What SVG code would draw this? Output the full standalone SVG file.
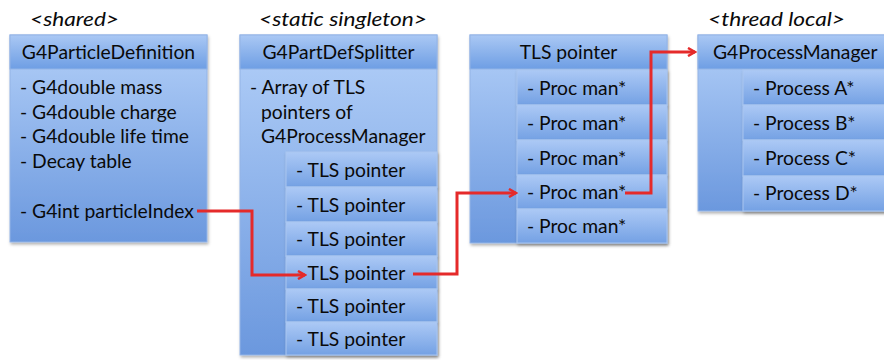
<svg xmlns="http://www.w3.org/2000/svg" width="884" height="360" viewBox="0 0 884 360">
<defs>
<linearGradient id="gHead" x1="0" y1="0" x2="0" y2="1"><stop offset="0" stop-color="#aac8f4"/><stop offset="1" stop-color="#6e9ee4"/></linearGradient>
<linearGradient id="gBody" x1="0" y1="0" x2="0" y2="1"><stop offset="0" stop-color="#b2cff8"/><stop offset="1" stop-color="#6b98de"/></linearGradient>
<linearGradient id="gRow" x1="0" y1="0" x2="0" y2="1"><stop offset="0" stop-color="#acc9f5"/><stop offset="1" stop-color="#74a1e4"/></linearGradient>
<filter id="sh" x="-10%" y="-10%" width="130%" height="130%"><feDropShadow dx="1" dy="2" stdDeviation="1.5" flood-color="#000" flood-opacity="0.3"/></filter>
<marker id="arr" markerWidth="10" markerHeight="10" refX="8" refY="5" orient="auto" markerUnits="userSpaceOnUse"><path d="M1,1 L8,5 L1,9" fill="none" stroke="#e52a2a" stroke-width="2.5"/></marker>
</defs>
<style>
text{font-family:"Lato","Open Sans","Liberation Sans",sans-serif;font-size:19.3px;fill:#0a0a0a}
.lab{font-style:italic;font-size:20px}
.mid{text-anchor:middle}
.body{fill:url(#gBody);stroke:#93b4e6;stroke-width:1;filter:url(#sh)}
.head{fill:url(#gHead);stroke:#93b4e6;stroke-width:1}
.row{fill:url(#gRow);stroke:#a9c5f0;stroke-width:1;filter:url(#sh)}
.conn{fill:none;stroke:#e52a2a;stroke-width:3;stroke-linejoin:miter}
</style>
<rect width="884" height="360" fill="#fff"/>
<g id="labels">
<text class="lab" x="30" y="26" textLength="89" lengthAdjust="spacingAndGlyphs">&lt;shared&gt;</text>
<text class="lab" x="259" y="26" textLength="168" lengthAdjust="spacingAndGlyphs">&lt;static singleton&gt;</text>
<text class="lab" x="708" y="26" textLength="137" lengthAdjust="spacingAndGlyphs">&lt;thread local&gt;</text>
</g>
<g id="g4particledefinition">
<rect class="body" x="10" y="35" width="197" height="207"/>
<rect class="head" x="10" y="35" width="197" height="34"/>
<text class="mid" x="108.5" y="59">G4ParticleDefinition</text>
<text x="20" y="94">- G4double mass</text>
<text x="20" y="119">- G4double charge</text>
<text x="20" y="143">- G4double life time</text>
<text x="20" y="168">- Decay table</text>
<text x="20" y="218">- G4int particleIndex</text>
</g>
<g id="g4partdefsplitter">
<rect class="body" x="240" y="35" width="197" height="320"/>
<rect class="head" x="240" y="35" width="197" height="34"/>
<text class="mid" x="338.5" y="59">G4PartDefSplitter</text>
<text x="250" y="94">- Array of TLS</text>
<text x="261" y="119">pointers of</text>
<text x="261" y="143">G4ProcessManager</text>
<rect class="row" x="286" y="152" width="151" height="35"/>
<text x="296" y="177">- TLS pointer</text>
<rect class="row" x="286" y="187" width="151" height="35"/>
<text x="296" y="212">- TLS pointer</text>
<rect class="row" x="286" y="222" width="151" height="34"/>
<text x="296" y="246">- TLS pointer</text>
<rect class="row" x="286" y="256" width="151" height="33"/>
<text x="296" y="280">- TLS pointer</text>
<rect class="row" x="286" y="289" width="151" height="33"/>
<text x="296" y="313">- TLS pointer</text>
<rect class="row" x="286" y="322" width="151" height="33"/>
<text x="296" y="346">- TLS pointer</text>
</g>
<g id="tlspointer">
<rect class="body" x="470" y="35" width="197" height="208"/>
<rect class="head" x="470" y="35" width="197" height="34"/>
<text class="mid" x="568.5" y="59">TLS pointer</text>
<rect class="row" x="517" y="70" width="150" height="35"/>
<text x="527" y="95">- Proc man*</text>
<rect class="row" x="517" y="105" width="150" height="35"/>
<text x="527" y="130">- Proc man*</text>
<rect class="row" x="517" y="140" width="150" height="35"/>
<text x="527" y="165">- Proc man*</text>
<rect class="row" x="517" y="175" width="150" height="34"/>
<text x="527" y="199">- Proc man*</text>
<rect class="row" x="517" y="209" width="150" height="34"/>
<text x="527" y="233">- Proc man*</text>
</g>
<g id="g4processmanager">
<rect class="body" x="698" y="35" width="200" height="176"/>
<rect class="head" x="698" y="35" width="200" height="34"/>
<text x="713" y="59">G4ProcessManager</text>
<rect class="row" x="743" y="70" width="155" height="35"/>
<text x="753" y="95">- Process A*</text>
<rect class="row" x="743" y="105" width="155" height="35"/>
<text x="753" y="130">- Process B*</text>
<rect class="row" x="743" y="140" width="155" height="36"/>
<text x="753" y="165">- Process C*</text>
<rect class="row" x="743" y="176" width="155" height="35"/>
<text x="753" y="200">- Process D*</text>
</g>
<g id="connectors">
<path class="conn" marker-end="url(#arr)" d="M197,211 H252 V275 H305"/>
<path class="conn" marker-end="url(#arr)" d="M625,193 H651 V52 H695"/>
<path class="conn" marker-end="url(#arr)" d="M413,274 H457 V193 H516"/>
</g>
</svg>
